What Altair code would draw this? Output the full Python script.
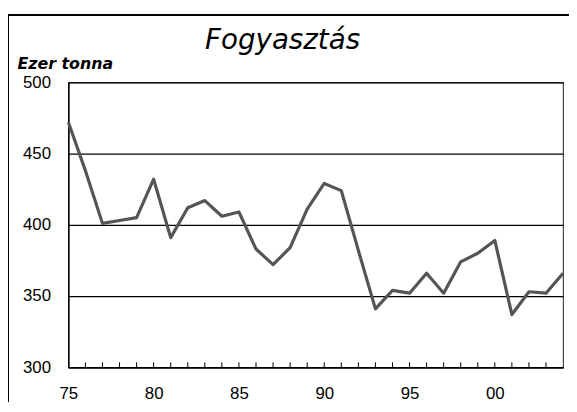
import altair as alt
import pandas as pd

years = list(range(1975, 2005))
values = [472, 438, 401, 403, 405, 432, 391, 412, 417, 406,
          409, 383, 372, 384, 411, 429, 424, 382, 341, 354,
          352, 366, 352, 374, 380, 389, 337, 353, 352, 366]
x_label_years = [1975, 1980, 1985, 1990, 1995, 2000]
y_ticks = [300, 350, 400, 450, 500]
title_text = "Fogyasztás"
y_title = "Ezer tonna"

df = pd.DataFrame({"year": years, "value": values})

x_scale = alt.Scale(domain=[1975, 2004], nice=False, zero=False)
y_scale = alt.Scale(domain=[300, 500], nice=False, zero=False)

label_expr = "(datum.value % 100 < 10 ? '0' : '') + (datum.value % 100)"

x_axis = alt.Axis(values=x_label_years, labelExpr=label_expr, ticks=False, grid=False,
                  domain=True, domainColor="black", domainWidth=1.5,
                  labelPadding=19, labelFont="Liberation Sans", labelFontSize=17,
                  labelColor="black", title=None, labelAngle=0, labelOverlap=False,
                  labelFlush=False)

y_axis = alt.Axis(values=y_ticks, ticks=False, grid=True, gridColor="black", gridWidth=1.3,
                  domain=True, domainColor="black", domainWidth=1.5,
                  labelPadding=18, labelFont="Liberation Sans", labelFontSize=17,
                  labelColor="black", title=y_title, titleAngle=0, titleAlign="left",
                  titleBaseline="alphabetic", titleX=-52, titleY=-14,
                  titleFont="DejaVu Sans", titleFontSize=16, titleFontStyle="italic",
                  titleFontWeight="bold", titleColor="black")

frame = alt.Chart(alt.Data(values=[{"a": 1}])).mark_rect(
    fillOpacity=0, stroke="black", strokeWidth=2
).encode(x=alt.value(-61), x2=alt.value(640), y=alt.value(-68), y2=alt.value(440))

title = alt.Chart(alt.Data(values=[{"t": title_text}])).mark_text(
    font="DejaVu Sans", fontStyle="italic", fontSize=28, align="center",
    baseline="alphabetic", color="black"
).encode(text="t:N", x=alt.value(216.5), y=alt.value(-34))

line = alt.Chart(df).mark_line(color="#555555", strokeWidth=3.2, strokeJoin="round").encode(
    x=alt.X("year:Q", scale=x_scale, axis=x_axis),
    y=alt.Y("value:Q", scale=y_scale, axis=y_axis),
)

ticks = alt.Chart(df).transform_filter("datum.year > 1975 && datum.year < 2004").mark_rule(
    color="black", strokeWidth=1
).encode(
    x=alt.X("year:Q", scale=x_scale),
    y=alt.value(288), y2=alt.value(283)
)

chart = alt.layer(frame, title, line, ticks).properties(
    width=500, height=288,
    autosize=alt.AutoSizeParams(type="none"),
    padding={"left": 61, "top": 73, "right": 6, "bottom": 33},
    background="white",
).configure_view(stroke="#444", strokeWidth=1.2)

chart.save("out.html", embed_options={"renderer": "svg", "actions": False})
